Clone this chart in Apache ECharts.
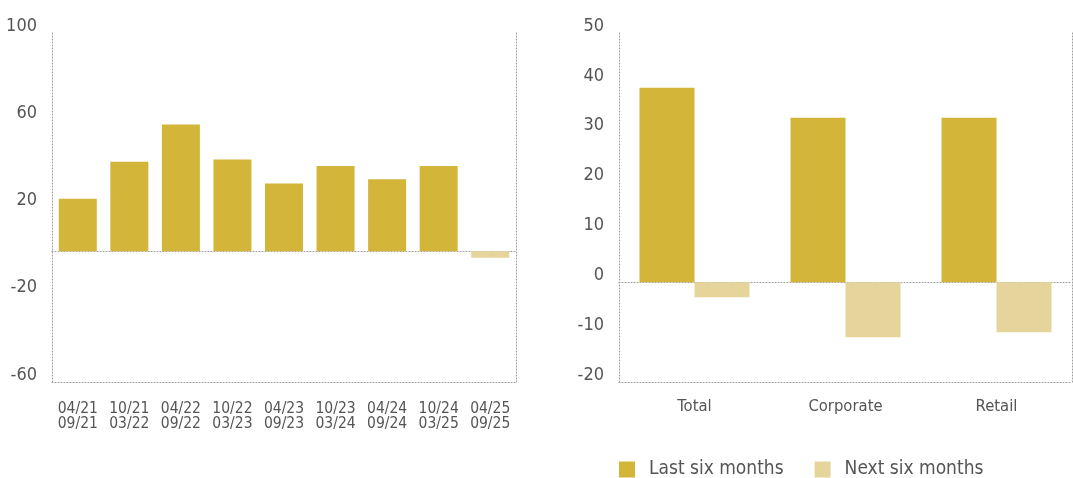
<!DOCTYPE html>
<html>
<head>
<meta charset="utf-8">
<title>Credit standards</title>
<script src="https://cdn.jsdelivr.net/npm/echarts@6/dist/echarts.min.js"></script>
<style>
  html, body { margin: 0; padding: 0; background: #fff; }
  #main { width: 1073px; height: 478px; }
</style>
</head>
<body>
<div id="main"></div>
<script>
// left panel: half-year periods
var periodStart = ['04/21', '10/21', '04/22', '10/22', '04/23', '10/23', '04/24', '10/24', '04/25'];
var periodEnd   = ['09/21', '03/22', '09/22', '03/23', '09/23', '03/24', '09/24', '03/25', '09/25'];
var periodValues = [24, 41, 58, 42, 31, 39, 33, 39, -3];
var leftTicks = [-60, -20, 20, 60, 100];

// right panel: segments
var segments = ['Total', 'Corporate', 'Retail'];
var lastSixMonths = [39, 33, 33];
var nextSixMonths = [-3, -11, -10];

var DARK = '#d3b53a';
var LIGHT = '#e6d59a';
var TEXT = '#555555';
var FONT = "'Liberation Sans Narrow', 'DejaVu Sans Condensed', sans-serif";
var dotLine = { color: '#9c9c9c', type: [1, 2], width: 1 };
var dotted = { show: true, lineStyle: dotLine };

var periodLabels = periodStart.map(function (s, i) { return s + '\n' + periodEnd[i]; });
var lastIdx = periodValues.length - 1;

var chart = echarts.init(document.getElementById('main'), null, { renderer: 'canvas' });

var yLabel = {
  color: TEXT, fontFamily: FONT, fontSize: 18, lineHeight: 14,
  verticalAlign: 'bottom', margin: 15
};
var xLabel = { color: TEXT, fontFamily: FONT, fontSize: 15.5, lineHeight: 15, margin: 19, interval: 0 };

chart.setOption({
  animation: false,
  textStyle: { fontFamily: FONT },
  grid: [
    { left: 52, width: 464, top: 33, height: 349 },
    { left: 619, width: 453, top: 33, height: 349 }
  ],
  legend: {
    data: ['Last six months', 'Next six months'],
    left: 619, top: 460, padding: 0,
    icon: 'rect', itemWidth: 16, itemHeight: 16, itemGap: 31,
    textStyle: { color: TEXT, fontFamily: FONT, fontSize: 19, lineHeight: 16, padding: [0, 0, 0, 9] }
  },
  xAxis: [
    { gridIndex: 0, type: 'category', data: periodLabels,
      axisLine: { show: true, onZero: false, lineStyle: dotLine },
      axisTick: { show: false }, axisLabel: xLabel },
    { gridIndex: 0, type: 'category', data: periodLabels, position: 'top',
      axisLine: dotted, axisTick: { show: false }, axisLabel: { show: false } },
    { gridIndex: 1, type: 'category', data: segments,
      axisLine: { show: true, onZero: false, lineStyle: dotLine },
      axisTick: { show: false }, axisLabel: Object.assign({}, xLabel, { fontSize: 16.5, margin: 17 }) },
    { gridIndex: 1, type: 'category', data: segments, position: 'top',
      axisLine: dotted, axisTick: { show: false }, axisLabel: { show: false } }
  ],
  yAxis: [
    { gridIndex: 0, type: 'value', min: -60, max: 100,
      axisLine: dotted, axisTick: { show: false }, splitLine: { show: false },
      axisLabel: Object.assign({ customValues: leftTicks }, yLabel) },
    { gridIndex: 0, type: 'value', min: -60, max: 100, position: 'right',
      axisLine: dotted, axisTick: { show: false }, splitLine: { show: false }, axisLabel: { show: false } },
    { gridIndex: 1, type: 'value', min: -20, max: 50, interval: 10,
      axisLine: dotted, axisTick: { show: false }, splitLine: { show: false }, axisLabel: yLabel },
    { gridIndex: 1, type: 'value', min: -20, max: 50, interval: 10, position: 'right',
      axisLine: dotted, axisTick: { show: false }, splitLine: { show: false }, axisLabel: { show: false } }
  ],
  series: [
    { type: 'bar', xAxisIndex: 0, yAxisIndex: 0, data: periodValues, barWidth: 38,
      itemStyle: { color: function (p) { return p.dataIndex === lastIdx ? LIGHT : DARK; } },
      markLine: { silent: true, symbol: 'none', label: { show: false }, z: 1,
        lineStyle: dotLine, data: [{ yAxis: 0 }] } },
    { name: 'Last six months', type: 'bar', xAxisIndex: 2, yAxisIndex: 2, data: lastSixMonths,
      barWidth: 55, barGap: '0%', itemStyle: { color: DARK },
      markLine: { silent: true, symbol: 'none', label: { show: false }, z: 1,
        lineStyle: dotLine, data: [{ yAxis: 0 }] } },
    { name: 'Next six months', type: 'bar', xAxisIndex: 2, yAxisIndex: 2, data: nextSixMonths,
      barWidth: 55, barGap: '0%', itemStyle: { color: LIGHT } }
  ]
});
</script>
</body>
</html>
